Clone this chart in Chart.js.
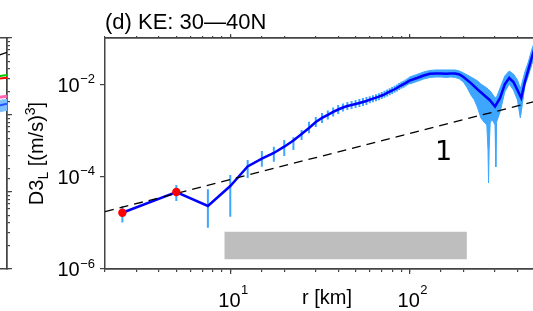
<!DOCTYPE html>
<html>
<head>
<meta charset="utf-8">
<script src="https://cdn.jsdelivr.net/npm/chart.js@4.4.0/dist/chart.umd.min.js"></script>
<style>
  html, body { margin: 0; padding: 0; background: #fff; overflow: hidden; }
  #wrap { position: relative; width: 533px; height: 311px; overflow: hidden; }
  #panelC { position: absolute; left: -433px; top: 0; }
  #panelD { position: absolute; left: 0; top: 0; }
</style>
</head>
<body>
<div id="wrap">
  <canvas id="panelC" width="452" height="311"></canvas>
  <canvas id="panelD" width="560" height="311"></canvas>
</div>
<script>
/* ---------- panel (d) data ---------- */

const rLine = [2.5, 5, 7.5, 10, 12.5, 15, 17.5, 20, 22.5, 25, 27.5, 30, 32.5, 35, 37.5, 40,
  42.5, 45, 47.5, 50, 52.5, 55, 57.5, 60, 62.5, 65, 67.5, 70, 72.5, 75, 77.5, 80, 82.5, 85,
  87.5, 90, 92.5, 95, 97.5, 100, 110, 120, 130, 140, 150, 160, 170, 180, 190, 200, 220, 240,
  260, 280, 300, 320, 340, 360, 380, 400, 420, 440, 460, 480, 500, 520, 540];

const d3Line = [1.67e-5, 4.72e-5, 2.34e-5, 6.37e-5, 1.69e-4, 2.50e-4, 3.33e-4, 4.56e-4,
  6.21e-4, 8.61e-4, 1.16e-3, 1.57e-3, 1.92e-3, 2.23e-3, 2.59e-3, 2.93e-3, 3.24e-3, 3.49e-3,
  3.67e-3, 3.86e-3, 4.06e-3, 4.27e-3, 4.49e-3, 4.79e-3, 5.04e-3, 5.30e-3, 5.57e-3, 5.91e-3,
  6.28e-3, 6.70e-3, 7.15e-3, 7.59e-3, 8.07e-3, 8.61e-3, 9.27e-3, 9.85e-3, 1.04e-2, 1.10e-2,
  1.17e-2, 1.25e-2, 1.42e-2, 1.61e-2, 1.75e-2, 1.78e-2, 1.78e-2, 1.75e-2, 1.78e-2, 1.78e-2,
  1.69e-2, 1.49e-2, 1.10e-2, 7.98e-3, 6.07e-3, 4.72e-3, 3.41e-3, 5.21e-3, 1.03e-2, 1.42e-2,
  1.16e-2, 7.78e-3, 5.21e-3, 1.16e-2, 2.12e-2, 3.86e-2, 6.37e-2, 9.5e-2, 1.3e-1];

// error bars for r <= 100
const barHi = [2.34e-5, 6.70e-5, 5.41e-5, 1.10e-4, 2.34e-4, 3.67e-4, 4.56e-4, 6.37e-4, 7.3e-4,
  1.05e-3, 1.59e-3, 2.01e-3, 2.46e-3, 2.79e-3, 3.24e-3, 3.67e-3, 3.96e-3, 4.27e-3, 4.49e-3,
  4.72e-3, 4.97e-3, 5.21e-3, 5.48e-3, 5.71e-3, 6.00e-3, 6.31e-3, 6.64e-3, 7.05e-3, 7.48e-3,
  7.98e-3, 8.51e-3, 9.05e-3, 9.61e-3, 1.03e-2, 1.10e-2, 1.17e-2, 1.24e-2, 1.32e-2, 1.40e-2, 1.49e-2];
const barLo = [1.02e-5, 3.01e-5, 7.91e-6, 1.37e-5, 9.51e-5, 1.67e-4, 2.15e-4, 2.86e-4, 3.87e-4,
  6.37e-4, 8.9e-4, 1.22e-3, 1.49e-3, 1.78e-3, 2.07e-3, 2.34e-3, 2.65e-3, 2.86e-3, 3.01e-3,
  3.16e-3, 3.33e-3, 3.49e-3, 3.67e-3, 4.02e-3, 4.22e-3, 4.44e-3, 4.67e-3, 4.97e-3, 5.27e-3,
  5.62e-3, 6.00e-3, 6.37e-3, 6.76e-3, 7.23e-3, 7.78e-3, 8.26e-3, 8.73e-3, 9.27e-3, 9.85e-3, 1.05e-2];
const barR = rLine.slice(0, barHi.length);

// spread band for r >= 100
const bandR = [100, 110, 120, 130, 140, 150, 160, 170, 180, 190, 200, 210, 220, 230, 240, 250,
  260, 270, 274, 276, 278, 282, 290, 300, 303, 306, 320, 340, 360, 380, 400, 415, 420, 440,
  460, 480, 500, 520, 540];
const bandHi = [1.49e-2, 1.69e-2, 1.92e-2, 2.07e-2, 2.12e-2, 2.12e-2, 2.12e-2, 2.12e-2, 2.12e-2,
  2.01e-2, 1.82e-2, 1.65e-2, 1.49e-2, 1.35e-2, 1.22e-2, 1.05e-2, 9.51e-3, 8.61e-3, 8.19e-3,
  7.78e-3, 7.78e-3, 7.41e-3, 6.37e-3, 5.21e-3, 5.21e-3, 5.48e-3, 8.61e-3, 1.57e-2, 2.01e-2,
  1.73e-2, 1.29e-2, 8.61e-3, 9.51e-3, 1.92e-2, 3.16e-2, 5.76e-2, 9.05e-2, 0.129, 0.173];
const bandLo = [1.05e-2, 1.19e-2, 1.35e-2, 1.46e-2, 1.49e-2, 1.49e-2, 1.46e-2, 1.49e-2, 1.46e-2,
  1.35e-2, 1.16e-2, 8.61e-3, 6.07e-3, 4.72e-3, 3.16e-3, 1.92e-3, 1.57e-3, 1.35e-3, 3.86e-4,
  7.41e-5, 3.86e-4, 1.57e-3, 1.73e-3, 1.35e-3, 1.65e-4, 1.57e-3, 2.59e-3, 7.05e-3, 1.05e-2,
  7.78e-3, 4.72e-3, 1.92e-3, 2.59e-3, 9.51e-3, 1.57e-2, 2.72e-2, 4.49e-2, 7.05e-2, 0.100];

const dotR = [2.5, 5];
const dotV = [1.67e-5, 4.72e-5];

// slope-1 reference line
const slopeR = [2, 600];
const slopeV = [1.76e-5, 5.28e-3];

// grey bar
const shadeR = [9.26, 209];
const shadeV = [6.47e-6, 1.63e-6];

const yTickExps = [-6, -4, -2];
const xTickExps = [1, 2];
const X_MIN = 2, X_MAX = 600;
const Y_MIN = 1e-6, Y_MAX = 0.105;

/* ---------- panel (c) fragment data ---------- */
const cR = [450, 600];
const cGreen = [3.0e-3, 3.3e-3];
const cRed = [2.85e-3, 3.05e-3];
const cPink = [1.6e-3, 1.75e-3];
const cBlue = [1.2e-3, 1.4e-3];
const cBlueHi = [1.45e-3, 1.6e-3];
const cBlueLo = [1.0e-3, 1.15e-3];
const cSlope = [5.2e-3, 6.5e-3];

const FONT = '"Liberation Sans", Arial, Helvetica, sans-serif';
const AXIS = '#444';
Chart.defaults.font.family = FONT;

const pts = (xs, ys) => xs.map((x, i) => ({ x: x, y: ys[i] }));

const errPts = [];
barR.forEach((r, i) => {
    errPts.push({ x: r, y: barLo[i] }, { x: r, y: barHi[i] }, { x: r, y: null });
});

function logX(pos, weight, tickLen, h, majors, extra) {
    const s = {
        type: 'logarithmic', position: pos, min: X_MIN, max: X_MAX, weight: weight,
        ticks: { display: false },
        grid: { drawOnChartArea: false, tickLength: tickLen, color: AXIS, lineWidth: 1.2 },
        border: { color: AXIS, width: 1.5 },
        afterFit: sc => { sc.height = h; }
    };
    if (majors) s.afterBuildTicks = sc => { sc.ticks = majors.map(v => ({ value: v })); };
    return Object.assign(s, extra || {});
}

const xMajors = xTickExps.map(e => Math.pow(10, e));

/* ----------------------------------------------------------
   labels with superscripts, axis title, slope note
----------------------------------------------------------- */
const textPlugin = {
    id: 'textPlugin',
    afterDraw(chart) {
        const { ctx } = chart;
        const x = chart.scales.x, y = chart.scales.y;
        ctx.save();
        ctx.fillStyle = '#000';
        ctx.textBaseline = 'alphabetic';
        ctx.textAlign = 'left';

        yTickExps.forEach(e => {
            const py = y.getPixelForValue(Math.pow(10, e));
            const sup = '\u2212' + Math.abs(e);
            ctx.font = '13px ' + FONT;
            const sw = ctx.measureText(sup).width;
            const right = y.right - 10;
            ctx.fillText(sup, right - sw, py - 1.5);
            ctx.font = '20px ' + FONT;
            const bw = ctx.measureText('10').width;
            ctx.fillText('10', right - sw - bw - 0.5, py + 7);
        });

        xTickExps.forEach(e => {
            const px = x.getPixelForValue(Math.pow(10, e));
            ctx.font = '20px ' + FONT;
            const bw = ctx.measureText('10').width;
            ctx.fillText('10', px - 12, x.top + 37.5);
            ctx.font = '13px ' + FONT;
            ctx.fillText(String(e), px - 12 + bw + 0.5, x.top + 25);
        });

        // y axis title, rotated
        const parts = [['D3', 20, 0], ['L', 14, 5], [' [(m/s)', 20, 0], ['3', 14, -8], [']', 20, 0]];
        let total = 0;
        parts.forEach(p => { ctx.font = p[1] + 'px ' + FONT; total += ctx.measureText(p[0]).width; });
        ctx.translate(43, (chart.chartArea.top + chart.chartArea.bottom) / 2);
        ctx.rotate(-Math.PI / 2);
        let cx = -total / 2;
        parts.forEach(p => {
            ctx.font = p[1] + 'px ' + FONT;
            ctx.fillText(p[0], cx, p[2]);
            cx += ctx.measureText(p[0]).width;
        });
        ctx.setTransform(1, 0, 0, 1, 0, 0);

        // slope annotation
        ctx.font = '27px "DejaVu Sans", sans-serif';
        ctx.textAlign = 'center';
        ctx.fillText('1', x.getPixelForValue(155), y.getPixelForValue(2.34e-4));
        ctx.restore();
    }
};

new Chart(document.getElementById('panelD'), {
    type: 'line',
    data: {
        datasets: [
            { data: pts(dotR, dotV), showLine: false, pointRadius: 4.2, pointBackgroundColor: '#ff0000',
              pointBorderWidth: 0, order: 0 },
            { data: pts(slopeR, slopeV), borderColor: '#000', borderWidth: 1.3, borderDash: [9, 6],
              pointRadius: 0, order: 1 },
            { data: pts(rLine, d3Line), borderColor: '#0000ff', borderWidth: 2.5, pointRadius: 0,
              tension: 0, order: 2 },
            { data: errPts, borderColor: '#3ea6ff', borderWidth: 2, pointRadius: 0, spanGaps: false,
              order: 3 },
            { data: pts(bandR, bandHi), borderColor: '#3ea6ff', borderWidth: 1, pointRadius: 0,
              backgroundColor: '#3ea6ff', fill: '+1', order: 4 },
            { data: pts(bandR, bandLo), borderColor: '#3ea6ff', borderWidth: 1, pointRadius: 0,
              order: 4 },
            { data: pts(shadeR, [shadeV[0], shadeV[0]]), borderWidth: 0, pointRadius: 0,
              backgroundColor: '#bebebe', fill: { value: shadeV[1] }, order: 5 }
        ]
    },
    options: {
        responsive: false,
        animation: false,
        devicePixelRatio: 1,
        layout: { padding: { left: 0, right: 11, top: 0, bottom: 0 } },
        plugins: {
            legend: { display: false },
            tooltip: { enabled: false },
            title: {
                display: true, text: '(d) KE: 30\u201440N', align: 'start', fullSize: false,
                color: '#000', font: { family: FONT, size: 22, weight: 'normal', lineHeight: 1 },
                padding: { top: 12, bottom: 0 }
            }
        },
        scales: {
            x: logX('bottom', 0, 3, 0, null),
            xMaj: logX('bottom', 1, 5, 42, xMajors, {
                title: { display: true, text: 'r [km]', color: '#000',
                         font: { family: FONT, size: 20 }, padding: { top: 0, bottom: 1 } }
            }),
            xTop: logX('top', 0, 2, 0, null),
            xTopMaj: logX('top', 1, 4, 4, xMajors),
            y: {
                type: 'logarithmic', position: 'left', min: Y_MIN, max: Y_MAX,
                ticks: { display: false },
                afterBuildTicks: sc => { sc.ticks = yTickExps.map(e => ({ value: Math.pow(10, e) })); },
                grid: { drawOnChartArea: false, tickLength: 5, color: AXIS, lineWidth: 1.2 },
                border: { color: AXIS, width: 1.5 },
                afterFit: sc => { sc.width = 105; }
            }
        }
    },
    plugins: [textPlugin]
});

/* ----------------------------------------------------------
   panel (c) – only its right edge shows at the left
----------------------------------------------------------- */
new Chart(document.getElementById('panelC'), {
    type: 'line',
    data: {
        datasets: [
            { data: pts(cR, cSlope), borderColor: '#000', borderWidth: 1.3, borderDash: [9, 6], pointRadius: 0 },
            { data: pts(cR, cGreen), borderColor: '#00cc00', borderWidth: 2, pointRadius: 0 },
            { data: pts(cR, cRed), borderColor: '#ff0000', borderWidth: 2, pointRadius: 0 },
            { data: pts(cR, cPink), borderColor: '#ff66b3', borderWidth: 3, pointRadius: 0 },
            { data: pts(cR, cBlue), borderColor: '#2255ff', borderWidth: 2, pointRadius: 0 },
            { data: pts(cR, cBlueHi), borderColor: '#7fbfff', borderWidth: 1, pointRadius: 0,
              backgroundColor: '#7fbfff', fill: '+1' },
            { data: pts(cR, cBlueLo), borderColor: '#7fbfff', borderWidth: 1, pointRadius: 0 }
        ]
    },
    options: {
        responsive: false,
        animation: false,
        devicePixelRatio: 1,
        layout: { padding: { left: 0, right: 0, top: 38, bottom: 42 } },
        plugins: { legend: { display: false }, tooltip: { enabled: false } },
        scales: {
            x: { type: 'logarithmic', position: 'bottom', min: X_MIN, max: X_MAX,
                 ticks: { display: false }, grid: { display: false },
                 border: { color: AXIS, width: 1.5 }, afterFit: sc => { sc.height = 0; } },
            xTop: { type: 'logarithmic', position: 'top', min: X_MIN, max: X_MAX,
                 ticks: { display: false }, grid: { display: false },
                 border: { color: AXIS, width: 1.5 }, afterFit: sc => { sc.height = 0; } },
            y: { type: 'logarithmic', position: 'right', min: 1e-5, max: 1e-2, weight: 0,
                 ticks: { display: false },
                 grid: { drawOnChartArea: false, tickLength: 3, color: AXIS, lineWidth: 1.2 },
                 border: { color: AXIS, width: 1.5 }, afterFit: sc => { sc.width = 0; } },
            yMaj: { type: 'logarithmic', position: 'right', min: 1e-5, max: 1e-2, weight: 1,
                 ticks: { display: false },
                 afterBuildTicks: sc => { sc.ticks = [1e-5, 1e-4, 1e-3, 1e-2].map(v => ({ value: v })); },
                 grid: { drawOnChartArea: false, tickLength: 5, color: AXIS, lineWidth: 1.2 },
                 border: { color: AXIS, width: 1.5 }, afterFit: sc => { sc.width = 12; } }
        }
    }
});
</script>
</body>
</html>
